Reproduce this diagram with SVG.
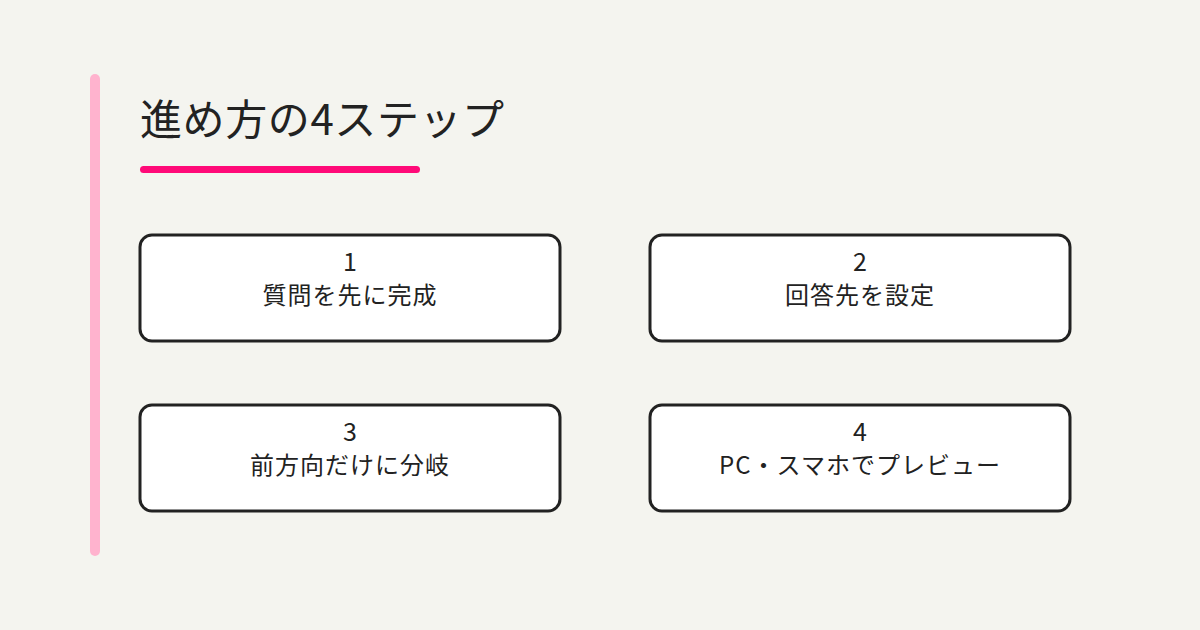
<svg xmlns="http://www.w3.org/2000/svg" width="1200" height="630" viewBox="0 0 1200 630">
<style>
.bg{fill:#F4F4EF}
.box{fill:#FFFFFF;stroke:#222222;stroke-width:3}
.num{font-family:"Noto Sans CJK JP","Noto Sans",sans-serif;font-size:25px;fill:#222222;text-anchor:middle}
.lbl{font-family:"Noto Sans CJK JP","Noto Sans",sans-serif;font-size:24px;letter-spacing:1px;fill:#222222;text-anchor:middle}
.title{font-family:"Noto Sans CJK JP","Noto Sans",sans-serif;font-size:42px;letter-spacing:0.6px;fill:#222222}
</style>
<rect class="bg" x="0" y="0" width="1200" height="630"/>
<rect x="90" y="74" width="10" height="482" rx="5" fill="#FFB3CE"/>
<text class="title" x="140" y="135">進め方の4ステップ</text>
<rect x="140" y="166" width="280" height="7" rx="3.5" fill="#FF0A78"/>
<g id="step1">
<rect class="box" x="140" y="235" width="420" height="106" rx="12"/>
<text class="num" x="350" y="271">1</text>
<text class="lbl" x="350" y="304">質問を先に完成</text>
</g>
<g id="step2">
<rect class="box" x="650" y="235" width="420" height="106" rx="12"/>
<text class="num" x="860" y="271">2</text>
<text class="lbl" x="860" y="304">回答先を設定</text>
</g>
<g id="step3">
<rect class="box" x="140" y="405" width="420" height="106" rx="12"/>
<text class="num" x="350" y="441">3</text>
<text class="lbl" x="350" y="474">前方向だけに分岐</text>
</g>
<g id="step4">
<rect class="box" x="650" y="405" width="420" height="106" rx="12"/>
<text class="num" x="860" y="441">4</text>
<text class="lbl" x="860" y="474">PC・スマホでプレビュー</text>
</g>
<g id="connectors"></g>
</svg>
